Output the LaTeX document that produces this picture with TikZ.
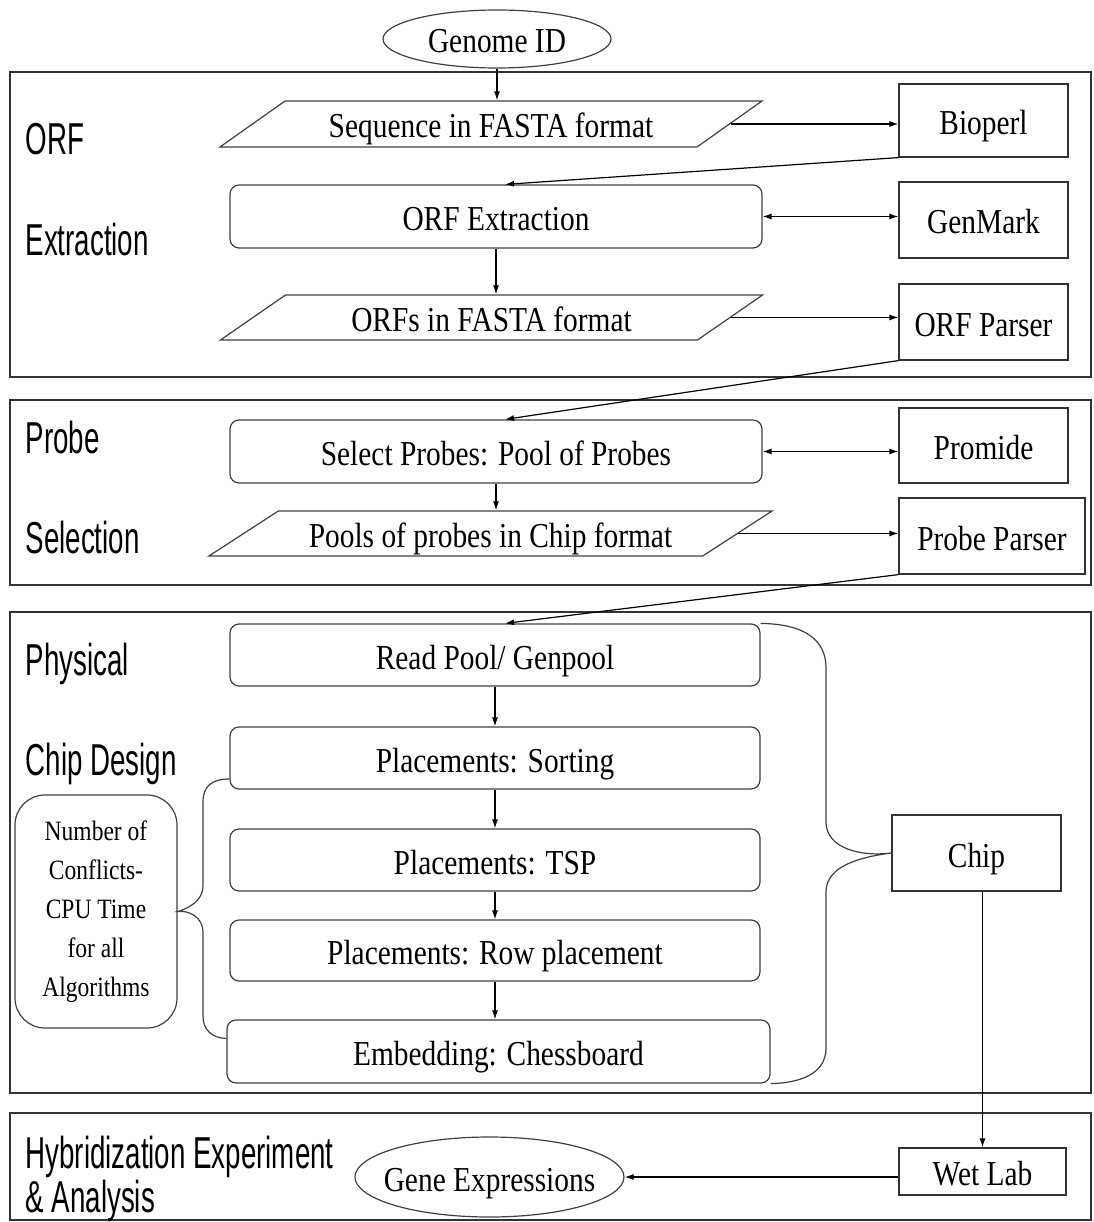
\documentclass[tikz,border=0pt]{standalone}
\usepackage{fontspec}
\setmainfont{Liberation Serif}[FakeStretch=0.84]
\newfontfamily\labelfont{Liberation Sans}[FakeStretch=0.62]
\usetikzlibrary{shapes.geometric,arrows.meta}

\newcommand{\boxfont}{\fontsize{35}{40}\selectfont}
\newcommand{\notefont}{\fontsize{28}{39}\selectfont}
\newcommand{\phasefont}{\labelfont\fontsize{44.7}{50}\selectfont}

\tikzset{every picture/.style={line width=1.2pt}}
\tikzset{
  stage/.style={draw=black!80, line width=2.6pt},
  proc/.style={draw=black!75, rounded corners=9pt, minimum width=530pt, minimum height=62pt, inner sep=0pt, text height=28pt, text depth=0pt, font=\boxfont},
  tool/.style={draw=black!80, minimum width=169pt, minimum height=76pt, inner sep=0pt, text height=28pt, text depth=0pt, font=\boxfont},
  data/.style={draw=black!75, trapezium, trapezium left angle=23.3, trapezium right angle=156.7, trapezium stretches body, minimum width=542pt, minimum height=46pt, inner sep=0pt, text height=28pt, text depth=0pt, font=\boxfont},
  term/.style={draw=black!75, ellipse, inner sep=0pt, text height=28pt, text depth=0pt, font=\boxfont},
  phase/.style={anchor=base west, inner sep=0pt, font=\phasefont},
  link/.style={-{Latex[length=9pt,width=6pt]}},
  both/.style={{Latex[length=9pt,width=6pt]}-{Latex[length=9pt,width=6pt]}},
}

\begin{document}
\begin{tikzpicture}[x=1pt, y=-1pt]
    \useasboundingbox (0,0) rectangle (1093,1222);

    % stages
    \draw[stage] (10,72) rectangle (1091,377);
    \draw[stage] (10,400) rectangle (1091,585);
    \draw[stage] (10,612) rectangle (1091,1093);
    \draw[stage] (10,1113) rectangle (1091,1220);

    \node[phase] (lorf) at (25,155) {ORF};
    \node[phase] (lextr) at (25,256) {Extraction};
    \node[phase] (lprobe) at (25,453) {Probe};
    \node[phase] (lsel) at (25,553) {Selection};
    \node[phase] (lphys) at (25,675) {Physical};
    \node[phase] (lchip) at (25,775) {Chip Design};
    \node[phase] (lhyb) at (25,1168) {Hybridization Experiment};
    \node[phase] (lana) at (25,1212) {\& Analysis};

    % ORF extraction
    \node[term, minimum width=228pt, minimum height=58pt] (genome) at (497,39) {Genome ID};
    \node[data] (seq) at (491,124) {Sequence in FASTA format};
    \node[tool, minimum height=73pt] (bioperl) at (983.5,120.5) {Bioperl};
    \node[proc, minimum width=532pt, minimum height=63pt] (orfx) at (496,216.5) {ORF Extraction};
    \node[tool] (genmark) at (983.5,220) {GenMark};
    \node[data, minimum height=45pt] (orfs) at (491.5,317.5) {ORFs in FASTA format};
    \node[tool] (orfparser) at (983.5,322) {ORF Parser};

    % probe selection
    \node[proc, minimum width=532pt, minimum height=63pt] (select) at (496,451.5) {Select Probes: Pool of Probes};
    \node[tool, minimum height=75pt] (promide) at (983.5,445.5) {Promide};
    \node[data, trapezium left angle=22, trapezium right angle=158, minimum width=563pt, minimum height=45pt] (pools) at (490.5,533.5) {Pools of probes in Chip format};
    \node[tool, minimum width=186pt] (probeparser) at (992,536) {Probe Parser};

    % physical chip design
    \node[proc] (readpool) at (495,655) {Read Pool/ Genpool};
    \node[proc] (sorting) at (495,758) {Placements: Sorting};
    \node[proc] (tsp) at (495,860) {Placements: TSP};
    \node[proc, minimum height=61pt] (rowpl) at (495,950.5) {Placements: Row placement};
    \node[proc, minimum width=543pt, minimum height=63pt] (embed) at (498.5,1051.5) {Embedding: Chessboard};
    \node[draw=black!75, rounded corners=30pt, minimum width=162pt, minimum height=233pt, inner sep=0pt, align=center, font=\notefont] (note) at (96,911.5) {Number of\\Conflicts-\\CPU Time\\for all\\Algorithms};
    \node[tool] (chip) at (976.5,853) {Chip};

    % hybridization
    \node[tool, minimum width=167pt, minimum height=47pt] (wetlab) at (982.5,1171.5) {Wet Lab};
    \node[term, inner xsep=-15pt, minimum width=269pt, minimum height=80pt] (geneexp) at (489.5,1177) {Gene Expressions};

    % connectors
    \draw[link] (genome.south) -- (genome.south |- seq.north);
    \draw[link] (seq.east) -- (bioperl.west |- seq.east);
    \draw[link] (bioperl.south west) -- ([xshift=9pt]orfx.north);
    \draw[both] (orfx.east) -- (orfx.east -| genmark.west);
    \draw[link] (orfx.south) -- (orfx.south |- orfs.north);
    \draw[link] (orfs.east) -- (orfs.east -| orfparser.west);
    \draw[link] (orfparser.south west) -- ([xshift=9pt]select.north);
    \draw[both] (select.east) -- (select.east -| promide.west);
    \draw[link] (select.south) -- (select.south |- pools.north);
    \draw[link] (pools.east) -- (pools.east -| probeparser.west);
    \draw[link] (probeparser.south west) -- ([xshift=10pt]readpool.north);
    \draw[link] (readpool.south) -- (sorting.north);
    \draw[link] (sorting.south) -- (tsp.north);
    \draw[link] (tsp.south) -- (rowpl.north);
    \draw[link] (rowpl.south) -- (rowpl.south |- embed.north);
    \draw[link] (chip.south -| wetlab.north) -- (wetlab.north);
    \draw[link] (wetlab.west |- geneexp.east) -- (geneexp.east);

    % braces
    \draw[black!75] (readpool.north east) .. controls (805,624) and (826,640) .. (826,668) -- (826,822)
        .. controls (826,848) and (860,857) .. (chip.west)
        .. controls (860,857) and (826,866) .. (826,892) -- (826,1048)
        .. controls (826,1074) and (800,1083) .. (embed.south east);
    \draw[black!75] ([yshift=-21pt]sorting.west) .. controls (212,779) and (203,786) .. (203,802) -- (203,886)
        .. controls (203,900) and (190,908) .. (note.east)
        .. controls (190,910) and (203,918) .. (203,932) -- (203,1016)
        .. controls (203,1030) and (212,1038) .. ([yshift=13pt]embed.west);
\end{tikzpicture}
\end{document}
